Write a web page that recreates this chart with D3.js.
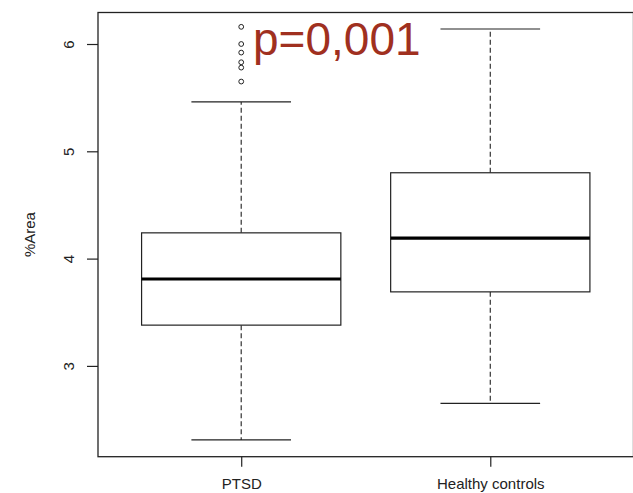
<!DOCTYPE html>
<html>
<head>
<meta charset="utf-8">
<script src="https://cdn.jsdelivr.net/npm/d3@7"></script>
<style>
  html, body { margin: 0; padding: 0; background: #fff; }
  svg { display: block; }
  text { font-family: "Liberation Sans", Arial, sans-serif; }
</style>
</head>
<body>
<svg id="chart" width="633" height="493"></svg>
<script>
// Groups and their five-number summaries
const groups = ["PTSD", "Healthy controls"];
const lowerWhisker = [2.31, 2.65];
const q1 = [3.38, 3.69];
const median = [3.81, 4.19];
const q3 = [4.24, 4.80];
const upperWhisker = [5.46, 6.14];
// Outlying observations (PTSD only)
const outliersPTSD = [6.16, 6.00, 5.92, 5.83, 5.78, 5.65];
const outliers = [outliersPTSD, []];

const yTicks = [3, 4, 5, 6];
const yLabel = "%Area";
const pLabel = "p=0,001";

const svg = d3.select("#chart");
const frame = { left: 98, top: 12.5, right: 633.5, bottom: 456.7 };

// R-style boxplot positions 1..n with 4% padding
const x = d3.scaleLinear().domain([0.425, 2.575]).range([frame.left, frame.right]);
const y = d3.scaleLinear().domain([2.1538, 6.2936]).range([frame.bottom, frame.top]);

const boxHalf = 0.4, capHalf = 0.2;
const ink = "#222";

const data = groups.map((g, i) => ({
  name: g, pos: i + 1,
  lo: lowerWhisker[i], q1: q1[i], med: median[i], q3: q3[i], hi: upperWhisker[i],
  out: outliers[i]
}));

const g = svg.append("g");

// Whiskers (dashed)
g.selectAll(".whisk-up").data(data).join("line")
  .attr("x1", d => x(d.pos)).attr("x2", d => x(d.pos))
  .attr("y1", d => y(d.q3)).attr("y2", d => y(d.hi))
  .attr("stroke", "#333").attr("stroke-width", 1.2).attr("stroke-dasharray", "5,3");
g.selectAll(".whisk-lo").data(data).join("line")
  .attr("x1", d => x(d.pos)).attr("x2", d => x(d.pos))
  .attr("y1", d => y(d.q1)).attr("y2", d => y(d.lo))
  .attr("stroke", "#333").attr("stroke-width", 1.2).attr("stroke-dasharray", "5,3");

// Staples
["hi", "lo"].forEach(k => {
  g.selectAll(".cap-" + k).data(data).join("line")
    .attr("x1", d => x(d.pos - capHalf)).attr("x2", d => x(d.pos + capHalf))
    .attr("y1", d => y(d[k])).attr("y2", d => y(d[k]))
    .attr("stroke", ink).attr("stroke-width", 1.2);
});

// Boxes
g.selectAll(".box").data(data).join("rect")
  .attr("x", d => x(d.pos - boxHalf))
  .attr("width", d => x(d.pos + boxHalf) - x(d.pos - boxHalf))
  .attr("y", d => y(d.q3))
  .attr("height", d => y(d.q1) - y(d.q3))
  .attr("fill", "#fff").attr("stroke", ink).attr("stroke-width", 1.2);

// Medians
g.selectAll(".med").data(data).join("line")
  .attr("x1", d => x(d.pos - boxHalf)).attr("x2", d => x(d.pos + boxHalf))
  .attr("y1", d => y(d.med)).attr("y2", d => y(d.med))
  .attr("stroke", "#000").attr("stroke-width", 3.2);

// Outliers
data.forEach(d => {
  g.selectAll(null).data(d.out).join("circle")
    .attr("cx", x(d.pos)).attr("cy", v => y(v)).attr("r", 2.4)
    .attr("fill", "none").attr("stroke", ink).attr("stroke-width", 1);
});

// Plot frame
svg.append("rect")
  .attr("x", frame.left).attr("y", frame.top)
  .attr("width", frame.right - frame.left).attr("height", frame.bottom - frame.top)
  .attr("fill", "none").attr("stroke", ink).attr("stroke-width", 1.3);

// Y axis
const yAxis = svg.append("g")
  .attr("transform", `translate(${frame.left},0)`)
  .call(d3.axisLeft(y).tickValues(yTicks).tickFormat(d3.format("d")).tickSize(11));
yAxis.select(".domain").remove();
yAxis.selectAll(".tick line").attr("stroke", ink).attr("stroke-width", 1.2);
yAxis.selectAll(".tick text")
  .attr("transform", "rotate(-90)")
  .attr("x", 0).attr("y", -24).attr("dy", 0)
  .attr("text-anchor", "middle")
  .attr("font-size", 15).attr("fill", "#222");

// X axis
const xAxis = svg.append("g")
  .attr("transform", `translate(0,${frame.bottom})`)
  .call(d3.axisBottom(x).tickValues(data.map(d => d.pos))
    .tickFormat((d, i) => groups[i]).tickSize(10));
xAxis.select(".domain").remove();
xAxis.selectAll(".tick line").attr("stroke", ink).attr("stroke-width", 1.2);
xAxis.selectAll(".tick text")
  .attr("y", 32).attr("dy", 0)
  .attr("font-size", 15).attr("fill", "#222");

// Y axis title
svg.append("text")
  .attr("transform", `translate(35,${(frame.top + frame.bottom) / 2}) rotate(-90)`)
  .attr("text-anchor", "middle")
  .attr("font-size", 15).attr("fill", "#222")
  .text(yLabel);

// Significance annotation
svg.append("text")
  .attr("x", 253).attr("y", 55)
  .attr("font-size", 46).attr("fill", "#a0301f")
  .text(pLabel);
</script>
</body>
</html>
